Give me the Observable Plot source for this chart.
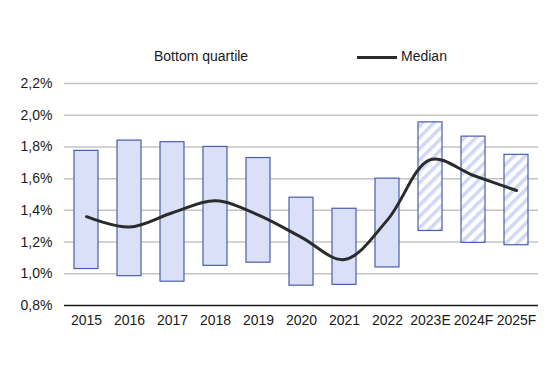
<!DOCTYPE html>
<html>
<head>
<meta charset="utf-8">
<script src="https://cdn.jsdelivr.net/npm/d3@7"></script>
<script src="https://cdn.jsdelivr.net/npm/@observablehq/plot@0.6"></script>
<style>
  html, body { margin: 0; padding: 0; background: #fff; }
  #wrap { position: relative; width: 550px; height: 390px; font-family: "Liberation Sans", Arial, sans-serif; }
  .leg { position: absolute; font-size: 14px; color: #1a1a1a; line-height: 14px; }
  .legline { position: absolute; height: 3px; background: #2b2b2b; }
</style>
</head>
<body>
<div id="wrap">
  <div class="leg" style="left:154px; top:49px;">Bottom quartile</div>
  <div class="legline" style="left:357px; top:56px; width:40px;"></div>
  <div class="leg" style="left:401px; top:49px;">Median</div>
</div>
<script>
const years = ["2015","2016","2017","2018","2019","2020","2021","2022","2023E","2024F","2025F"];
const bottomQuartile = [1.03, 0.985, 0.95, 1.05, 1.07, 0.925, 0.93, 1.04, 1.27, 1.195, 1.18];
const topQuartile = [1.775, 1.84, 1.83, 1.80, 1.73, 1.48, 1.41, 1.60, 1.955, 1.865, 1.75];
const median = [1.36, 1.295, 1.385, 1.46, 1.37, 1.23, 1.09, 1.34, 1.72, 1.62, 1.525];
const forecast = [false, false, false, false, false, false, false, false, true, true, true];
const yTicks = [0.8, 1.0, 1.2, 1.4, 1.6, 1.8, 2.0, 2.2];

const data = years.map((y, i) => ({year: y, low: bottomQuartile[i], high: topQuartile[i], med: median[i], fc: forecast[i]}));

const fmt = v => v.toFixed(1).replace(".", ",") + "%";

const chart = Plot.plot({
  width: 550,
  height: 390,
  marginLeft: 64,
  marginRight: 12,
  marginTop: 83,
  marginBottom: 85,
  style: {fontFamily: "'Liberation Sans', Arial, sans-serif", fontSize: "14px", color: "#1a1a1a", background: "white"},
  x: {domain: years, paddingInner: 0.44, paddingOuter: 0.23, label: null, tickSize: 0, tickPadding: 10},
  y: {domain: [0.8, 2.2], ticks: yTicks, tickFormat: fmt, label: null, tickSize: 0, tickPadding: 12},
  marks: [
    Plot.ruleY(yTicks.slice(1), {stroke: "#c4c4c4", strokeWidth: 1.5}),
    Plot.ruleY([0.8], {stroke: "#1a1a1a", strokeWidth: 1.5}),
    Plot.barY(data.filter(d => !d.fc), {x: "year", y1: "low", y2: "high", fill: "#dae0f7", stroke: "#4a5eae", strokeWidth: 1.2}),
    Plot.barY(data.filter(d => d.fc), {x: "year", y1: "low", y2: "high", fill: "url(#hatch)", stroke: "#4a5eae", strokeWidth: 1.2}),
    Plot.line(data, {x: "year", y: "med", curve: "catmull-rom", stroke: "#2b2b2b", strokeWidth: 3})
  ]
});

const ns = "http://www.w3.org/2000/svg";
const defs = document.createElementNS(ns, "defs");
const pat = document.createElementNS(ns, "pattern");
pat.setAttribute("id", "hatch");
pat.setAttribute("patternUnits", "userSpaceOnUse");
pat.setAttribute("width", "8");
pat.setAttribute("height", "8");
pat.setAttribute("patternTransform", "rotate(45)");
const bg = document.createElementNS(ns, "rect");
bg.setAttribute("width", "8"); bg.setAttribute("height", "8"); bg.setAttribute("fill", "white");
const ln = document.createElementNS(ns, "rect");
ln.setAttribute("width", "3.5"); ln.setAttribute("height", "8"); ln.setAttribute("fill", "#cfd8f4");
pat.appendChild(bg); pat.appendChild(ln);
defs.appendChild(pat);
chart.insertBefore(defs, chart.firstChild);

chart.style.position = "absolute";
chart.style.left = "0";
chart.style.top = "0";
document.getElementById("wrap").prepend(chart);
</script>
</body>
</html>
